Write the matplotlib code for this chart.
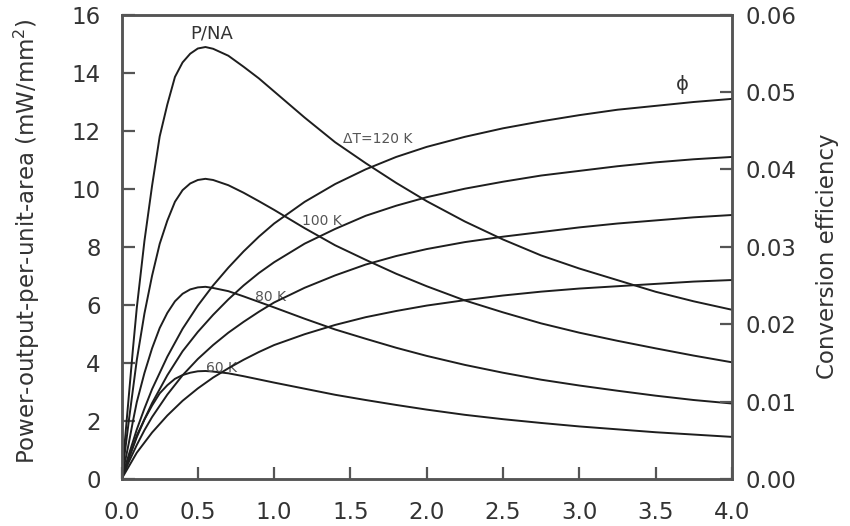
import matplotlib
matplotlib.use('Agg')
import matplotlib.pyplot as plt

plt.rcParams['font.family'] = ['DejaVu Sans']

# x grid for the power curves
x_p = [0, 0.025, 0.05, 0.075, 0.1, 0.15, 0.2, 0.25, 0.3, 0.35, 0.4, 0.45, 0.5, 0.55, 0.6,
       0.7, 0.8, 0.9, 1.0, 1.2, 1.4, 1.6, 1.8, 2.0, 2.25, 2.5, 2.75, 3.0, 3.25, 3.5, 3.75, 4.0]

# power output per unit area, mW/mm^2
p_120 = [0, 1.5, 3.0, 4.5, 5.9, 8.2, 10.1, 11.8, 12.9, 13.85, 14.35, 14.65, 14.83, 14.88, 14.82,
         14.58, 14.2, 13.8, 13.35, 12.45, 11.6, 10.88, 10.2, 9.57, 8.87, 8.25, 7.7, 7.25, 6.85, 6.45, 6.12, 5.83]
p_100 = [0, 1.05, 2.1, 3.1, 4.1, 5.7, 7.0, 8.1, 8.9, 9.55, 9.95, 10.18, 10.3, 10.34, 10.3,
         10.12, 9.86, 9.57, 9.27, 8.64, 8.05, 7.55, 7.07, 6.64, 6.15, 5.74, 5.36, 5.04, 4.76, 4.5, 4.25, 4.02]
p_80 = [0, 0.65, 1.3, 2.0, 2.65, 3.65, 4.5, 5.2, 5.72, 6.12, 6.38, 6.53, 6.6, 6.62, 6.58,
        6.47, 6.29, 6.1, 5.91, 5.52, 5.15, 4.83, 4.52, 4.24, 3.93, 3.66, 3.42, 3.22, 3.04, 2.87, 2.72, 2.6]
p_60 = [0, 0.37, 0.75, 1.12, 1.5, 2.05, 2.53, 2.95, 3.23, 3.45, 3.58, 3.66, 3.71, 3.72, 3.7,
        3.64, 3.54, 3.43, 3.32, 3.11, 2.9, 2.72, 2.55, 2.39, 2.21, 2.06, 1.93, 1.81, 1.71, 1.61, 1.53, 1.45]

# x grid for the conversion efficiency curves
x_phi = [0, 0.05, 0.1, 0.15, 0.2, 0.3, 0.4, 0.5, 0.6, 0.7, 0.8, 0.9, 1.0, 1.2, 1.4, 1.6, 1.8,
         2.0, 2.25, 2.5, 2.75, 3.0, 3.25, 3.5, 3.75, 4.0]

phi_120 = [0, 0.0033, 0.0064, 0.0091, 0.0116, 0.0158, 0.0194, 0.0224, 0.025, 0.0273, 0.0294, 0.0313, 0.033,
           0.0358, 0.0381, 0.0400, 0.0416, 0.0429, 0.0442, 0.0453, 0.0462, 0.0470, 0.0477, 0.0482, 0.0487, 0.0491]
phi_100 = [0, 0.0028, 0.0054, 0.0077, 0.0098, 0.0134, 0.0165, 0.019, 0.0212, 0.0232, 0.025, 0.0266, 0.028,
           0.0304, 0.0323, 0.034, 0.0353, 0.0364, 0.0375, 0.0384, 0.0392, 0.0398, 0.0404, 0.0409, 0.0413, 0.0416]
phi_80 = [0, 0.0023, 0.0044, 0.0063, 0.008, 0.0109, 0.0134, 0.0155, 0.0173, 0.0189, 0.0203, 0.0216, 0.0228,
          0.0247, 0.0263, 0.0277, 0.0288, 0.0297, 0.0306, 0.0313, 0.0319, 0.0325, 0.033, 0.0334, 0.0338, 0.0341]
phi_60 = [0, 0.0017, 0.0034, 0.0047, 0.006, 0.0082, 0.0101, 0.0117, 0.0131, 0.0143, 0.0154, 0.0164, 0.0173,
          0.0187, 0.0199, 0.0209, 0.0217, 0.0224, 0.0231, 0.0237, 0.0242, 0.0246, 0.0249, 0.0252, 0.0255, 0.0257]

x_ticks = [0.0, 0.5, 1.0, 1.5, 2.0, 2.5, 3.0, 3.5, 4.0]
p_ticks = [0, 2, 4, 6, 8, 10, 12, 14, 16]
phi_ticks = [0.00, 0.01, 0.02, 0.03, 0.04, 0.05, 0.06]

LC = '#1e1e1e'
TC = '#333333'
SC = '#555555'

fig = plt.figure(figsize=(8.5, 5.26), dpi=100)
ax = fig.add_axes([0.143, 0.0894, 0.718, 0.883])
ax2 = ax.twinx()

for p in (p_120, p_100, p_80, p_60):
    ax.plot(x_p, p, color=LC, lw=1.4, solid_capstyle='round')
for ph in (phi_120, phi_100, phi_80, phi_60):
    ax2.plot(x_phi, ph, color=LC, lw=1.4, solid_capstyle='round')

ax.set_xlim(0, 4.0)
ax.set_ylim(0, 16)
ax2.set_ylim(0, 0.06)

ax.set_xticks(x_ticks)
ax.set_xticklabels([f'{v:.1f}' for v in x_ticks])
ax.set_yticks(p_ticks)
ax2.set_yticks(phi_ticks)
ax2.set_yticklabels([f'{v:.2f}' for v in phi_ticks])

for a in (ax, ax2):
    for s in a.spines.values():
        s.set_color(SC)
        s.set_linewidth(1.8)
    a.tick_params(direction='in', length=9, width=1.6, color=SC, labelcolor=TC, labelsize=16.5)
ax.tick_params(axis='x', pad=16)
ax.tick_params(axis='y', pad=15)
ax2.tick_params(axis='y', pad=10)

ax.set_ylabel('Power-output-per-unit-area (mW/mm$^2$)', fontsize=16.5, color=TC)
ax.yaxis.set_label_coords(-0.13, 0.513)
ax2.set_ylabel('Conversion efficiency', fontsize=16.5, color=TC)
ax2.yaxis.set_label_coords(1.138, 0.48)

# curve annotations
ax.text(0.593, 15.33, 'P/NA', fontsize=13, color=TC, ha='center', va='center')
ax.text(1.45, 11.72, '\u0394T=120 K', fontsize=10, color='#555555', ha='left', va='center')
ax.text(1.18, 8.87, '100 K', fontsize=10, color='#555555', ha='left', va='center')
ax.text(0.875, 6.27, '80 K', fontsize=10, color='#555555', ha='left', va='center')
ax.text(0.555, 3.82, '60 K', fontsize=10, color='#555555', ha='left', va='center')
ax2.text(3.676, 0.0510, '\u03d5', fontsize=14, color=TC, ha='center', va='center')

fig.savefig('out.png', dpi=100, facecolor='white')
